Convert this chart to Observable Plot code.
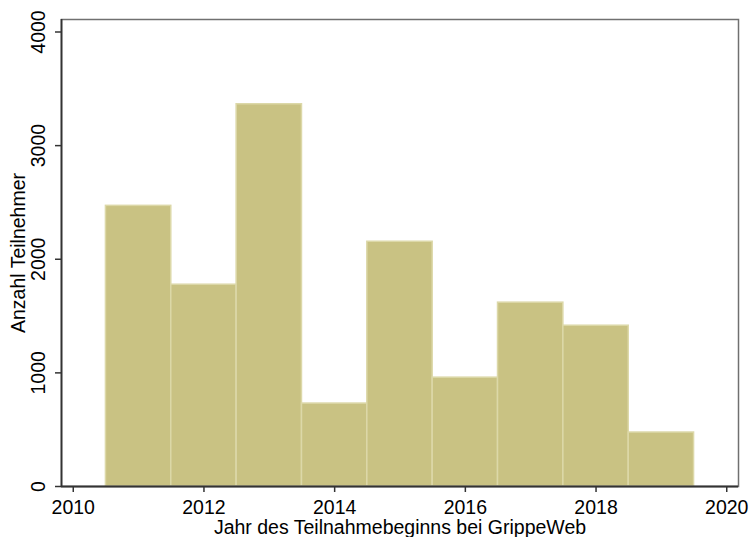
<!DOCTYPE html>
<html>
<head>
<meta charset="utf-8">
<script src="https://cdn.jsdelivr.net/npm/d3@7"></script>
<script src="https://cdn.jsdelivr.net/npm/@observablehq/plot@0.6"></script>
<style>
  html, body { margin: 0; padding: 0; background: #fff; }
  #chart svg { display: block; }
</style>
</head>
<body>
<div id="chart"></div>
<script>
// Histogram: bin centers (years) and counts
const years = [2011, 2012, 2013, 2014, 2015, 2016, 2017, 2018, 2019];
const counts = [2470, 1776, 3364, 730, 2154, 958, 1618, 1415, 475];
const binWidth = 1;
const xTicks = [2010, 2012, 2014, 2016, 2018, 2020];
const yTicks = [0, 1000, 2000, 3000, 4000];
const xTitle = "Jahr des Teilnahmebeginns bei GrippeWeb";
const yTitle = "Anzahl Teilnehmer";

const data = years.map((y, i) => ({year: y, count: counts[i]}));

const xDomain = [2009.82, 2020.18];
const yDomain = [0, 4110];
const fs = 19.5;
const fsTitle = 19.5;

const chart = Plot.plot({
  width: 749,
  height: 537,
  marginLeft: 61,
  marginRight: 11,
  marginTop: 19,
  marginBottom: 51,
  style: {fontFamily: "'Liberation Sans', Arial, sans-serif", fontSize: fs + "px", color: "#000", background: "#fff"},
  x: {domain: xDomain},
  y: {domain: yDomain},
  marks: [
    Plot.rectY(data, {
      x1: d => d.year - binWidth / 2,
      x2: d => d.year + binWidth / 2,
      y: "count",
      fill: "#c9c283",
      stroke: "#dcd8a8",
      strokeWidth: 1.5
    }),
    Plot.frame({stroke: "#707070", strokeWidth: 1.5}),
    Plot.ruleX([xDomain[0]], {stroke: "#333", strokeWidth: 1.8}),
    Plot.ruleY([0], {stroke: "#333", strokeWidth: 1.8}),
    Plot.axisY({ticks: yTicks, tickSize: 6, tickFormat: () => "", label: null, stroke: "#333", strokeWidth: 1.5}),
    Plot.axisX({ticks: xTicks, tickSize: 6, tickFormat: () => "", label: null, stroke: "#333", strokeWidth: 1.5}),
    Plot.text(yTicks, {
      y: d => d, frameAnchor: "left", dx: -22.5, rotate: -90,
      text: d => String(d), textAnchor: "middle", lineAnchor: "middle",
      fontSize: fs, fill: "#000"
    }),
    Plot.text(xTicks, {
      x: d => d, frameAnchor: "bottom", dy: 21.5,
      text: d => String(d), textAnchor: "middle", lineAnchor: "middle",
      fontSize: fs, fill: "#000"
    }),
    Plot.text([xTitle], {
      frameAnchor: "bottom", dy: 41, text: d => d,
      textAnchor: "middle", lineAnchor: "middle", fontSize: fsTitle, fill: "#000"
    }),
    Plot.text([yTitle], {
      frameAnchor: "left", dx: -43, rotate: -90, text: d => d,
      textAnchor: "middle", lineAnchor: "middle", fontSize: fsTitle, fill: "#000"
    })
  ]
});
document.getElementById("chart").appendChild(chart);
</script>
</body>
</html>
